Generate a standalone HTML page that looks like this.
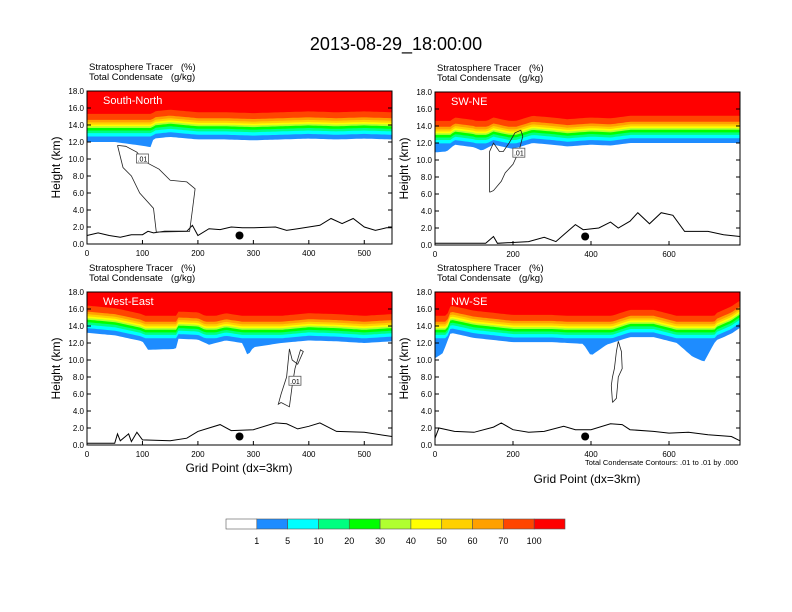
<!DOCTYPE html>
<html><head><meta charset="utf-8"><style>
body{margin:0;background:#fff}
svg{display:block;font-family:"Liberation Sans",sans-serif}
text{white-space:pre}
</style></head><body>
<svg id="chart" width="792" height="612" viewBox="0 0 792 612">
<text x="396" y="50" text-anchor="middle" font-size="18">2013-08-29_18:00:00</text>
<g id="panels"></g>
<g id="colorbar"></g>
</svg>
<script>
const NS="http://www.w3.org/2000/svg";
// ---- data ----
const panelNames=["South-North","SW-NE","West-East","NW-SE"];
const panelXMax=[550,782,550,782];
const p1BaseX=[0,50,95,115,120,150,200,250,300,350,400,450,500,550];
const p1Base=[12.0,12.0,11.6,11.4,12.4,12.6,12.3,12.3,12.2,12.3,12.4,12.3,12.4,12.3];
const p2BaseX=[0,30,50,100,120,150,200,250,300,340,400,450,500,600,700,782];
const p2Base=[10.9,11.0,11.8,11.5,11.1,11.8,11.3,12.0,11.8,11.6,11.8,11.7,12.0,12.0,12.0,12.0];
const p3BaseX=[0,50,100,110,160,165,200,220,250,280,290,300,350,400,450,500,550];
const p3Base=[13.2,12.9,12.2,11.2,11.3,12.5,12.4,11.8,12.3,12.0,10.5,11.5,12.0,12.3,12.2,12.0,12.2];
const p4BaseX=[0,20,40,100,200,300,380,400,440,500,560,620,660,690,720,760,782];
const p4Base=[10.2,10.8,13.2,12.6,12.1,12.1,11.9,10.5,11.8,12.7,12.7,12.0,10.4,9.8,12.3,13.1,13.8];
const p1TerrX=[0,20,40,60,80,100,110,120,140,160,180,190,200,220,240,260,280,300,340,360,380,400,420,440,460,480,500,520,540,550];
const p1Terr=[1.0,1.3,1.0,0.8,1.1,1.1,1.5,1.3,1.5,1.5,1.5,2.2,1.0,1.8,1.7,2.0,1.9,1.9,2.0,1.6,1.8,2.0,2.2,3.0,2.4,3.0,2.0,1.6,1.9,1.9];
const p2TerrX=[0,130,150,160,240,280,310,330,360,380,420,450,470,500,520,550,580,610,640,700,740,782];
const p2Terr=[0.2,0.2,1.0,0.2,0.4,0.9,0.4,1.2,2.4,1.8,2.0,2.7,2.0,2.8,3.8,2.5,3.8,3.5,1.6,1.6,1.2,1.0];
const p3TerrX=[0,50,55,60,75,80,90,100,150,180,200,220,240,260,300,340,360,380,400,420,450,500,550];
const p3Terr=[0.2,0.2,1.3,0.5,1.3,0.4,1.5,0.6,0.5,0.8,1.6,2.0,2.4,1.7,1.8,2.6,2.5,1.9,2.2,2.6,1.6,1.5,1.0];
const p4TerrX=[0,10,50,100,150,170,200,240,280,330,360,400,450,480,500,560,600,650,700,760,782];
const p4Terr=[0.8,2.0,1.6,1.5,2.1,2.6,1.8,1.5,1.6,2.2,1.8,1.8,2.5,2.4,1.8,1.6,1.4,1.5,1.2,1.0,0.5];
const p1ContX=[55,70,90,100,110,130,150,180,195,190,185,125,120,95,80,65,55];
const p1Cont=[11.6,11.5,10.8,10.0,9.5,8.8,7.5,7.3,6.5,4.0,1.5,1.4,4.2,6.0,8.0,9.0,11.6];
const p2ContX=[140,150,170,180,200,215,225,220,205,190,175,165,150,140,140];
const p2Cont=[6.2,6.4,7.5,8.5,9.5,11.0,12.8,13.5,13.2,12.0,11.0,11.0,12.0,11.0,6.2];
const p3ContX=[350,365,370,375,385,390,380,370,365,360,350,345,350];
const p3Cont=[5.0,4.5,7.0,9.0,11.2,11.0,9.5,10.0,11.3,8.0,6.0,4.8,5.0];
const p4ContX=[455,465,470,480,478,470,465,460,455,452,455];
const p4Cont=[5.0,5.5,8.0,9.0,11.0,12.2,11.0,9.0,8.0,7.0,5.0];
const dotX=[275,385,275,385];
const labelX=[100,215,375,null];
const labelY=[10.0,10.8,7.5,null];
const xTicks=[[0,100,200,300,400,500],[0,200,400,600],[0,100,200,300,400,500],[0,200,400,600]];
const yTicks=[0,2,4,6,8,10,12,14,16,18];
const barLabels=["1","5","10","20","30","40","50","60","70","100"];
const barColors=["#ffffff","#1e8cff","#00ffff","#00ff80","#00ff00","#b0ff30","#ffff00","#ffd000","#ffa000","#ff4500","#ff0000"];
const layerOff=[0,0.55,0.95,1.25,1.55,1.75,1.95,2.2,2.5,3.2];
const layerCol=["#1e8cff","#00ffff","#00ff80","#00ff00","#b0ff30","#ffff00","#ffd000","#ffa000","#ff4500","#ff0000"];
const upperFloor=[12.1,11.4,12.0,12.0];

const bases=[[p1BaseX,p1Base],[p2BaseX,p2Base],[p3BaseX,p3Base],[p4BaseX,p4Base]];
const terrs=[[p1TerrX,p1Terr],[p2TerrX,p2Terr],[p3TerrX,p3Terr],[p4TerrX,p4Terr]];
const conts=[[p1ContX,p1Cont],[p2ContX,p2Cont],[p3ContX,p3Cont],[p4ContX,p4Cont]];
const boxes=[[87,91],[435,92],[87,292],[435,292]];
const W=305,H=153;
function mk(t,a,p){const e=document.createElementNS(NS,t);for(const k in a)e.setAttribute(k,a[k]);(p||document.getElementById('panels')).appendChild(e);return e;}
function interp(xs,ys,x){for(let i=1;i<xs.length;i++){if(x<=xs[i]){const t=(x-xs[i-1])/(xs[i]-xs[i-1]);return ys[i-1]+t*(ys[i]-ys[i-1]);}}return ys[ys.length-1];}
const root=document.getElementById('panels');
for(let p=0;p<4;p++){
  const [x0,y0]=boxes[p],xm=panelXMax[p];
  const sx=v=>x0+v/xm*W, sy=v=>y0+H-v/18*H;
  const g=mk('g',{},root);
  
  
  const [bx,by]=bases[p];
  for(let L=0;L<layerCol.length;L++){
    let d='M'+sx(0)+','+y0;
    for(let s=0;s<=120;s++){const xv=xm*s/120;let b=interp(bx,by,xv);if(L>0)b=Math.max(b,upperFloor[p]);d+=' L'+sx(xv).toFixed(1)+','+sy(Math.min(18,b+layerOff[L])).toFixed(1);}
    d+=' L'+sx(xm)+','+y0+' Z';
    const e=mk('path',{d:d,fill:layerCol[L]},g);
    
    
  }
  const [tx,ty]=terrs[p];
  let td='';tx.forEach((v,i)=>{td+=(i?' L':'M')+sx(v).toFixed(1)+','+sy(ty[i]).toFixed(1);});
  const te=mk('path',{d:td,fill:'none',stroke:'#000','stroke-width':1},g);
  
  
  const [cx,cy]=conts[p];
  let cd='';cx.forEach((v,i)=>{cd+=(i?' L':'M')+sx(v).toFixed(1)+','+sy(cy[i]).toFixed(1);});
  const ce=mk('path',{d:cd,fill:'none',stroke:'#222','stroke-width':0.8},g);
  
  
  if(labelX[p]!==null){
    const r=mk('rect',{x:sx(labelX[p])-6,y:sy(labelY[p])-5,width:12,height:9,fill:'#fff',stroke:'#555','stroke-width':0.8},g);
    
    
    const lt=mk('text',{x:sx(labelX[p]),y:sy(labelY[p])+2.5,'font-size':7,'text-anchor':'middle'},g);lt.textContent='.01';
    
    
  }
  const dot=mk('circle',{cx:sx(dotX[p]),cy:sy(1.0),r:4,fill:'#000'},g);
  
  
  const fr=mk('rect',{x:x0,y:y0,width:W,height:H,fill:'none',stroke:'#000','stroke-width':1},g);
  
  
  yTicks.forEach(v=>{
    mk('line',{x1:x0,x2:x0+4,y1:sy(v),y2:sy(v),stroke:'#000'},g);
    mk('line',{x1:x0+W,x2:x0+W-4,y1:sy(v),y2:sy(v),stroke:'#000'},g);
    const t=mk('text',{x:x0-3,y:sy(v)+3,'font-size':8,'text-anchor':'end'},g);t.textContent=v.toFixed(1);
    
    
  });
  xTicks[p].forEach(v=>{
    mk('line',{x1:sx(v),x2:sx(v),y1:y0+H,y2:y0+H-4,stroke:'#000'},g);
    const t=mk('text',{x:sx(v),y:y0+H+12,'font-size':8,'text-anchor':'middle'},g);t.textContent=v;
    
    
  });
  const nm=mk('text',{x:x0+16,y:y0+13,'font-size':11,fill:'#fff'},g);nm.textContent=panelNames[p];
  
  
  const h1=mk('text',{x:x0+2,y:y0-21,'font-size':9.5},g);h1.textContent='Stratosphere Tracer   (%)';
  
  
  const h2=mk('text',{x:x0+2,y:y0-11,'font-size':9.5},g);h2.textContent='Total Condensate   (g/kg)';
  
  
  const yl=mk('text',{x:0,y:0,'font-size':12,'text-anchor':'middle',transform:'translate('+(x0-27)+','+(y0+H/2)+') rotate(-90)'},g);yl.textContent='Height (km)';
  
  
}
const xt1=mk('text',{x:239,y:472,'font-size':12,'text-anchor':'middle'},root);xt1.textContent='Grid Point (dx=3km)';


const xt2=mk('text',{x:587,y:483,'font-size':12,'text-anchor':'middle'},root);xt2.textContent='Grid Point (dx=3km)';


const cn=mk('text',{x:738,y:465,'font-size':7.5,'text-anchor':'end'},root);cn.textContent='Total Condensate Contours: .01 to .01 by .000';


const cb=document.getElementById('colorbar');
const bw=(565-226)/barColors.length;
barColors.forEach((c,i)=>{
  const r=mk('rect',{x:226+i*bw,y:519,width:bw,height:10,fill:c,stroke:'#555','stroke-width':0.6},cb);
  
  
});
barLabels.forEach((l,i)=>{
  const t=mk('text',{x:226+(i+1)*bw,y:544,'font-size':9,'text-anchor':'middle'},cb);t.textContent=l;
  
  
});
</script>
</body></html>
